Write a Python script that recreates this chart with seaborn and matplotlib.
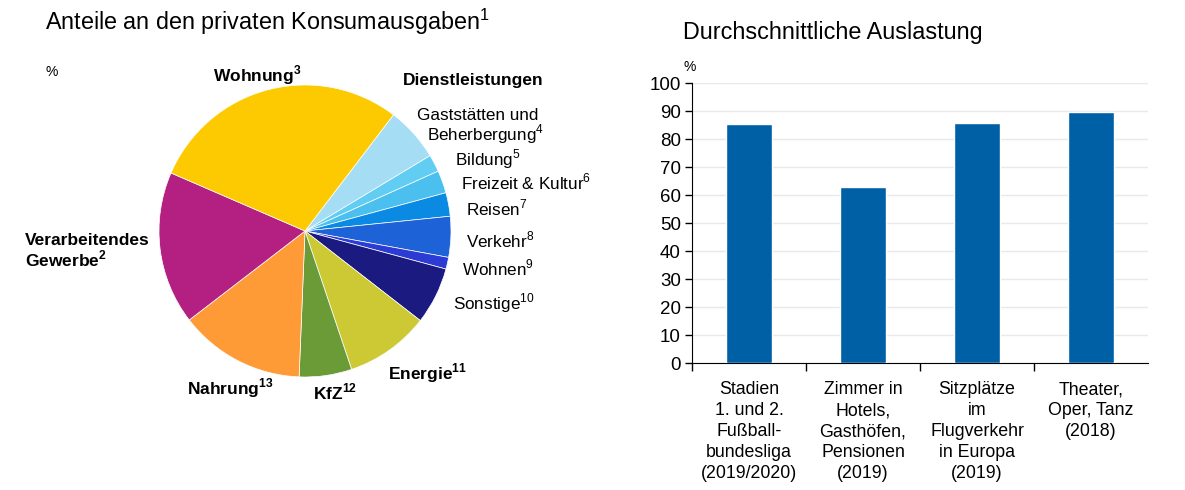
import matplotlib
matplotlib.use("Agg")
import matplotlib.pyplot as plt
import pandas as pd
import seaborn as sns

# Anteile an den privaten Konsumausgaben (%), im Uhrzeigersinn ab Dienstleistungen
pie_labels = ["Gaststätten und\nBeherbergung$^{4}$", "Bildung$^{5}$", "Freizeit & Kultur$^{6}$",
              "Reisen$^{7}$", "Verkehr$^{8}$", "Wohnen$^{9}$", "Sonstige$^{10}$",
              "Energie$^{\\mathbf{11}}$", "KfZ$^{\\mathbf{12}}$", "Nahrung$^{\\mathbf{13}}$",
              "Verarbeitendes\nGewerbe$^{\\mathbf{2}}$", "Wohnung$^{\\mathbf{3}}$"]
pie_values = [6.0, 1.9, 2.5, 2.6, 4.5, 1.3, 6.3, 9.3, 5.8, 13.9, 16.9, 28.8]
pie_colors = ["#A5DDF5", "#62CDF2", "#4BC0EE", "#0A8AE2", "#1E62D8", "#2B3BD4",
              "#1B1A80", "#CDC934", "#6A9B36", "#FF9B37", "#B41F82", "#FDC900"]

# Durchschnittliche Auslastung (%)
bar_labels = ["Stadien\n1. und 2.\nFußball-\nbundesliga\n(2019/2020)",
              "Zimmer in\nHotels,\nGasthöfen,\nPensionen\n(2019)",
              "Sitzplätze\nim\nFlugverkehr\nin Europa\n(2019)",
              "Theater,\nOper, Tanz\n(2018)"]
bar_values = [85.5, 63.0, 85.7, 89.6]

sns.set_style("white")
plt.rcParams["font.family"] = ["Liberation Sans", "DejaVu Sans"]
plt.rcParams.update({"text.color": "black", "xtick.color": "black", "ytick.color": "black",
                     "mathtext.fontset": "custom", "mathtext.rm": "Liberation Sans",
                     "mathtext.bf": "Liberation Sans:bold"})

W, H = 1185, 490
fig = plt.figure(figsize=(W / 100, H / 100), dpi=100)


def px(x, y):
    return x / W, 1 - y / H


# ---- Kreisdiagramm ----
cx, cy, r = 305, 231, 146
ax1 = fig.add_axes([(cx - r) / W, (H - cy - r) / H, 2 * r / W, 2 * r / H])
ax1.pie(pie_values, colors=pie_colors, startangle=52.7, counterclock=False,
        wedgeprops=dict(edgecolor="white", linewidth=0.5))
ax1.set_xlim(-1, 1)
ax1.set_ylim(-1, 1)
ax1.set_aspect("auto")
ax1.axis("off")

fig.text(*px(45, 22), "Anteile an den privaten Konsumausgaben$^{1}$",
         fontsize=16.8, va="center", ha="left")
fig.text(*px(45, 72), "%", fontsize=10, va="center", ha="left")

# Beschriftungspositionen (Pixel im Bild, erste Zeile)
label_pos = [(478, 116), (455, 159), (461, 182), (466, 208), (466, 240), (462, 268),
             (453, 303), (388, 373), (313, 392), (187, 388), (25, 240), (213, 75)]

fig.text(*px(403, 80), "Dienstleistungen", fontweight="bold",
         fontsize=12.5, va="center", ha="left")
for i, (lab, (x, y)) in enumerate(zip(pie_labels, label_pos)):
    lines = lab.split("\n")
    for j, line in enumerate(lines):
        if i >= 7:
            fig.text(*px(x, y + 19 * j), line, fontweight="bold", fontsize=12.5,
                     va="center", ha="left")
        elif len(lines) > 1:
            fig.text(*px(x + 8 * j, y + 18 * j), line, fontsize=12.3,
                     va="center", ha="center")
        else:
            fig.text(*px(x, y), line, fontsize=12.3, va="center", ha="left")

# ---- Balkendiagramm ----
ax2 = fig.add_axes([692 / W, (H - 363.3) / H, (1148 - 692) / W, (363.3 - 83.3) / H])
df = pd.DataFrame({"Kategorie": bar_labels, "Auslastung": bar_values})
sns.barplot(data=df, x="Kategorie", y="Auslastung", color="#0060A5", saturation=1,
            width=0.4, ax=ax2, zorder=3)
ax2.set_xlim(-0.5, 3.5)
ax2.set_ylim(0, 100)
ax2.set_yticks(range(0, 101, 10))
ax2.yaxis.grid(True, color="#E9E9E9", linewidth=1, zorder=0)
ax2.set_axisbelow(True)
ax2.set_xlabel("")
ax2.set_ylabel("")
for s in ["top", "right"]:
    ax2.spines[s].set_visible(False)
ax2.spines["left"].set_color("black")
ax2.spines["bottom"].set_color("black")
ax2.set_xticks(range(4))
ax2.set_xticklabels(bar_labels, fontsize=12.8, linespacing=1.3)
ax2.tick_params(axis="x", which="major", length=0, pad=13)
ax2.set_xticks([-0.5, 0.5, 1.5, 2.5], minor=True)
ax2.tick_params(axis="x", which="minor", bottom=True, length=6, width=1,
                color="black", direction="out")
ax2.tick_params(axis="y", left=True, length=5, width=1, color="black", direction="out",
                labelsize=13.5, pad=3)

fig.text(*px(683, 32), "Durchschnittliche Auslastung", fontsize=16.8,
         va="center", ha="left")
fig.text(*px(684, 67), "%", fontsize=10, va="center", ha="left")

fig.savefig("out.png", dpi=100)
